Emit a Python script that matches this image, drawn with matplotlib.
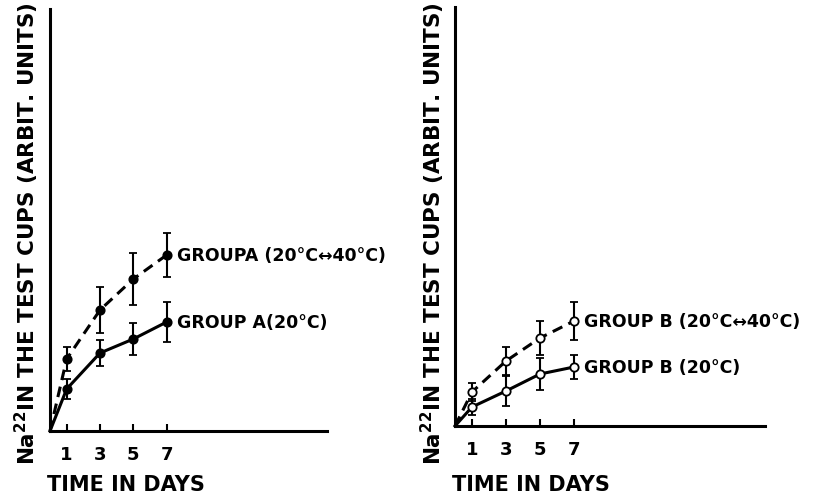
import matplotlib.pyplot as plt

plt.rcParams["font.family"] = ["DejaVu Sans"]
plt.rcParams["font.weight"] = "bold"
plt.rcParams["mathtext.default"] = "bf"

days = [1, 3, 5, 7]

# group A, filled circles
a_20 = [4.2, 7.8, 9.2, 10.9]
a_20_err = [1.0, 1.3, 1.6, 2.0]
a_cycle = [7.2, 12.1, 15.2, 17.6]
a_cycle_err = [1.2, 2.3, 2.6, 2.2]

# group B, open circles
b_20 = [1.9, 3.5, 5.2, 5.9]
b_20_err = [0.8, 1.5, 1.6, 1.2]
b_cycle = [3.4, 6.5, 8.8, 10.5]
b_cycle_err = [0.9, 1.4, 1.7, 1.9]

labels_a = ["GROUPA (20°C↔40°C)", "GROUP A(20°C)"]
labels_b = ["GROUP B (20°C↔40°C)", "GROUP B (20°C)"]
ylabel = "Na$^{22}$IN THE TEST CUPS (ARBIT. UNITS)"

W, H = 837, 502
fig = plt.figure(figsize=(W / 100, H / 100), dpi=100)


def make_axes(x0, x1, y_top, y_base, xmax):
    ax = fig.add_axes([x0 / W, 1 - y_base / H, (x1 - x0) / W, (y_base - y_top) / H])
    ax.set_xlim(0, xmax)
    ax.set_ylim(0, (y_base - y_top) / 10)
    for s in ["top", "right"]:
        ax.spines[s].set_visible(False)
    for s in ["left", "bottom"]:
        ax.spines[s].set_linewidth(2.2)
    ax.set_yticks([])
    ax.set_xticks(days)
    ax.set_xticklabels([str(d) for d in days], fontsize=13, fontweight="bold")
    ax.tick_params(axis="x", direction="in", length=5, width=1.5, pad=10)
    return ax


def draw_group(ax, cyc, cyc_err, base, base_err, face, labels):
    x = [0] + days
    ax.plot(x, [0] + cyc, color="black", lw=2.2, ls=(0, (3.5, 2.2)), clip_on=False)
    ax.plot(x, [0] + base, color="black", lw=2.2, clip_on=False)
    for vals, err in [(cyc, cyc_err), (base, base_err)]:
        ax.errorbar(days, vals, yerr=err, fmt="o", color="black", mfc=face,
                    mec="black", ms=6, mew=1.3, elinewidth=1.5, capsize=3,
                    capthick=1.5, clip_on=False)
    ax.text(7.6, cyc[-1], labels[0], fontsize=12.5, fontweight="bold", va="center")
    ax.text(7.6, base[-1], labels[1], fontsize=12.5, fontweight="bold", va="center")


ax1 = make_axes(50, 327, 10, 432, (327 - 50) / 16.67)
draw_group(ax1, a_cycle, a_cycle_err, a_20, a_20_err, "black", labels_a)

ax2 = make_axes(455, 765, 8, 427, (765 - 455) / 17.0)
draw_group(ax2, b_cycle, b_cycle_err, b_20, b_20_err, "white", labels_b)

fig.text(47 / W, 1 - 485 / H, "TIME IN DAYS", fontsize=15, fontweight="bold", va="center")
fig.text(452 / W, 1 - 485 / H, "TIME IN DAYS", fontsize=15, fontweight="bold", va="center")
fig.text(27 / W, 1 - 234 / H, ylabel, rotation=90, fontsize=15.5, fontweight="bold",
         ha="center", va="center")
fig.text(433 / W, 1 - 234 / H, ylabel, rotation=90, fontsize=15.5, fontweight="bold",
         ha="center", va="center")

fig.savefig("out.png", dpi=100)
